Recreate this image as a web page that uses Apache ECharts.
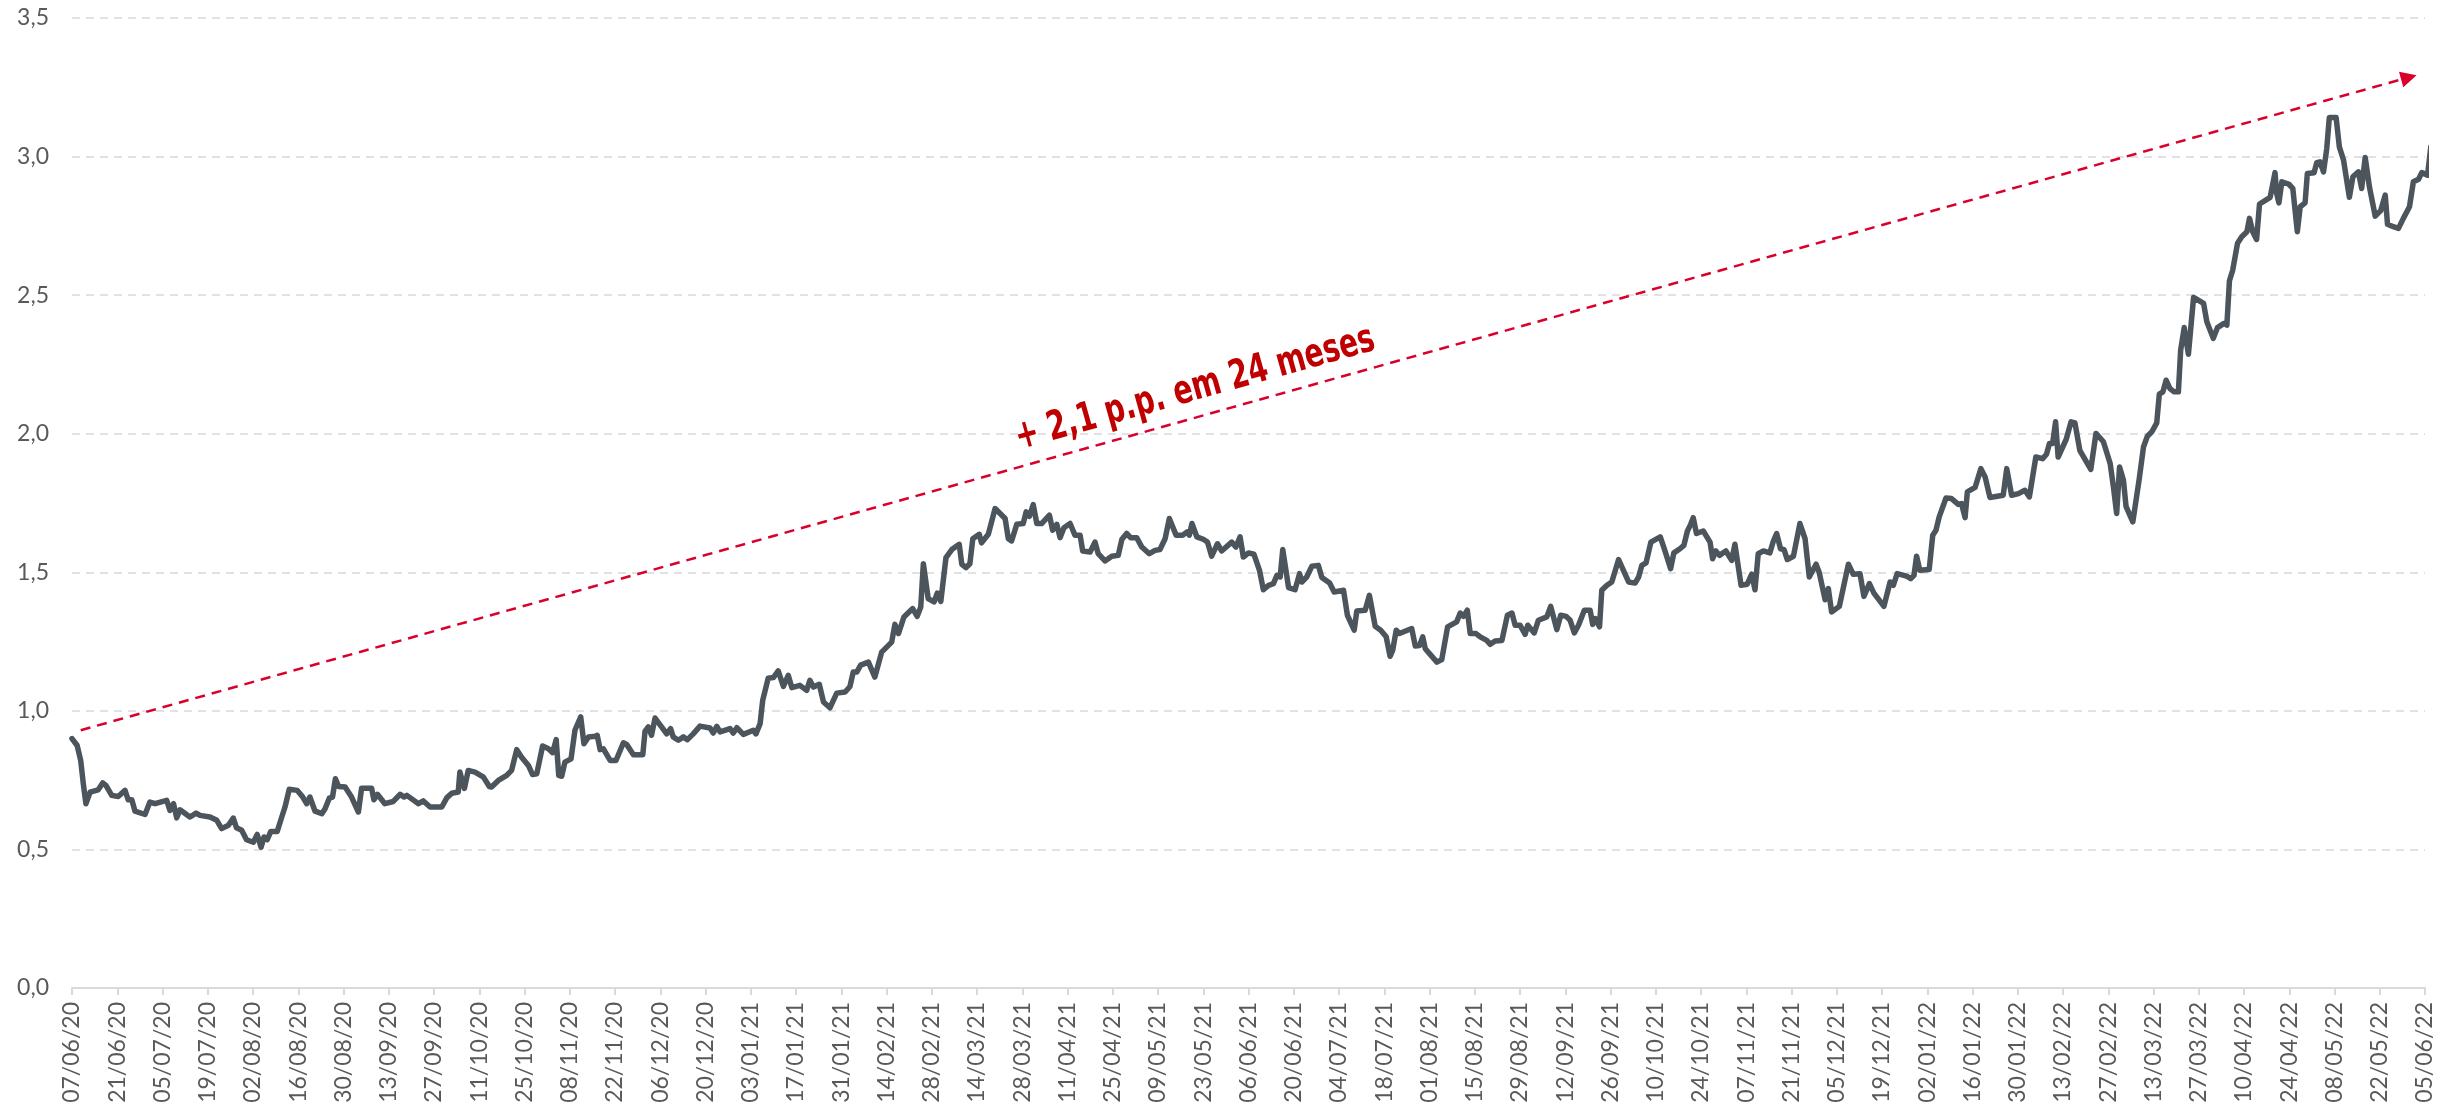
<!DOCTYPE html>
<html>
<head>
<meta charset="utf-8">
<title>Evolução 07/06/20 - 05/06/22</title>
<script src="https://cdn.jsdelivr.net/npm/echarts@6/dist/echarts.min.js"></script>
<style>
  html, body { margin: 0; padding: 0; background: #fff; }
  #chart { width: 2457px; height: 1111px; }
</style>
</head>
<body>
<div id="chart"></div>
<script>
// série diária, posição em dias a partir de 07/06/20
const startDate = "07/06/20";
const dayOffsets = [
  0, 1.6, 2.7, 3.5, 4.3, 5.6, 8.1, 9.5, 10.5, 12.3, 14.3, 16.4, 17.4, 18.5, 19.5, 22.6, 24.1, 25.7, 29.3, 30.3,
  31.4, 32.4, 33.4, 36.5, 38.4, 39.6, 42.7, 44.8, 46.3, 48.4, 49.9, 50.9, 52.5, 54.0, 56.1, 57.3, 58.5, 59.4, 60.4, 61.5,
  63.5, 64.9, 65.9, 67.2, 69.7, 71.4, 72.6, 73.6, 75.2, 77.3, 78.3, 79.6, 80.6, 81.5, 82.5, 84.5, 86.5, 88.6, 89.6, 92.7,
  93.4, 94.5, 96.8, 99.4, 101.5, 102.7, 103.6, 107.2, 108.7, 110.8, 114.4, 116.0, 117.5, 119.5, 120.0, 121.4, 122.6, 124.7, 127.3, 129.1,
  129.8, 131.9, 134.5, 136.0, 137.6, 139.1, 141.2, 142.5, 143.8, 145.6, 147.4, 148.7, 149.8, 150.6, 151.5, 152.5, 154.4, 155.6, 157.4, 158.4,
  159.8, 161.8, 162.5, 163.4, 164.4, 166.5, 168.3, 170.6, 171.6, 173.7, 176.6, 177.3, 178.3, 179.3, 180.4, 182.4, 184.0, 185.2, 186.0, 187.6,
  189.2, 190.4, 192.2, 194.3, 197.4, 198.4, 199.5, 200.5, 203.6, 204.6, 205.7, 207.7, 210.8, 211.6, 212.9, 213.7, 215.4, 217.0, 218.5, 220.1,
  221.6, 222.7, 225.2, 227.3, 228.3, 229.4, 231.2, 232.5, 234.5, 236.6, 239.2, 240.7, 241.7, 242.8, 244.0, 246.4, 248.4, 250.5, 253.6, 254.6,
  255.7, 257.4, 260.1, 261.5, 262.6, 263.4, 264.9, 266.7, 267.7, 268.8, 270.4, 272.2, 274.5, 275.3, 276.6, 277.8, 278.7, 280.7, 281.4, 283.5,
  285.6, 288.7, 289.7, 290.7, 292.3, 294.3, 295.2, 296.2, 297.4, 298.5, 300.0, 302.4, 303.4, 304.7, 305.7, 306.9, 308.8, 310.3, 311.9, 312.7,
  315.0, 316.5, 317.5, 319.6, 321.7, 323.7, 324.8, 326.3, 327.5, 329.4, 331.0, 333.3, 335.1, 336.6, 338.2, 339.5, 341.6, 343.6, 345.1, 345.7,
  346.5, 348.0, 350.0, 351.3, 352.6, 354.4, 355.7, 358.8, 360.1, 361.4, 362.4, 364.0, 365.7, 367.4, 368.6, 370.2, 371.7, 372.8, 373.8, 374.6,
  376.4, 378.4, 379.8, 380.5, 382.0, 383.6, 385.6, 386.7, 389.1, 390.5, 393.4, 394.6, 396.7, 397.5, 400.1, 401.4, 403.2, 404.9, 406.6, 407.8,
  408.6, 409.7, 410.7, 414.5, 415.6, 416.9, 417.9, 418.7, 420.2, 422.3, 423.8, 425.6, 428.4, 429.5, 430.5, 431.7, 432.6, 434.4, 435.7, 437.7,
  438.8, 440.3, 442.4, 444.1, 445.5, 446.5, 448.0, 449.6, 450.4, 452.4, 453.7, 456.3, 457.5, 459.4, 460.6, 462.3, 463.5, 464.8, 466.1, 467.9,
  469.7, 470.5, 471.3, 472.6, 473.3, 474.9, 476.4, 478.5, 480.0, 481.6, 483.6, 484.7, 485.7, 487.0, 488.5, 491.4, 492.8, 494.6, 495.6, 497.5,
  498.7, 499.8, 500.8, 501.6, 502.6, 504.7, 506.8, 507.6, 508.6, 509.7, 511.7, 513.5, 514.5, 516.4, 518.3, 519.7, 520.7, 521.7, 523.3, 525.3,
  526.4, 527.4, 528.6, 529.7, 530.7, 532.6, 534.6, 536.2, 537.5, 539.6, 540.6, 542.4, 543.4, 544.4, 546.8, 549.6, 551.1, 553.2, 554.4, 556.1,
  557.5, 560.6, 562.5, 563.5, 564.7, 567.6, 568.9, 569.9, 570.7, 571.7, 574.6, 575.7, 576.7, 577.7, 579.8, 581.5, 583.6, 584.6, 585.7, 586.4,
  588.8, 590.6, 591.9, 593.4, 597.5, 598.6, 600.1, 602.2, 604.2, 605.6, 607.6, 609.7, 610.9, 611.8, 612.8, 613.7, 614.5, 617.0, 618.5, 619.7,
  621.2, 624.6, 626.2, 628.5, 630.6, 631.6, 632.6, 633.5, 634.7, 635.5, 637.6, 639.6, 640.9, 642.1, 643.5, 645.0, 645.8, 646.9, 647.9, 649.1,
  650.4, 651.7, 652.4, 653.5, 654.8, 656.4, 659.5, 660.5, 662.5, 663.8, 665.8, 666.7, 667.5, 668.5, 670.0, 671.3, 672.9, 673.7, 674.7, 675.9,
  676.8, 680.1, 681.6, 682.1, 682.8, 683.7, 685.8, 687.1, 688.5, 689.4, 690.9, 691.6, 693.7, 694.5, 695.5, 696.6, 697.6, 698.4, 700.5, 701.5,
  702.8, 704.6, 705.7, 707.4, 708.4, 709.5, 710.8, 712.6, 714.3, 715.7, 716.4, 718.2, 719.8, 721.3, 723.2, 724.4, 726.0, 727.0, 728.8, 729.8
];
const values = [
  0.900, 0.875, 0.820, 0.737, 0.665, 0.707, 0.715, 0.740, 0.731, 0.695, 0.691, 0.713, 0.679, 0.679, 0.638, 0.626, 0.671, 0.665, 0.677, 0.641,
  0.665, 0.614, 0.643, 0.617, 0.631, 0.623, 0.617, 0.605, 0.575, 0.587, 0.613, 0.578, 0.569, 0.535, 0.526, 0.554, 0.508, 0.545, 0.535, 0.565,
  0.565, 0.617, 0.653, 0.717, 0.713, 0.689, 0.665, 0.689, 0.638, 0.629, 0.647, 0.685, 0.689, 0.755, 0.727, 0.725, 0.689, 0.635, 0.721, 0.721,
  0.679, 0.699, 0.665, 0.673, 0.699, 0.689, 0.695, 0.665, 0.675, 0.653, 0.653, 0.687, 0.703, 0.707, 0.779, 0.720, 0.785, 0.779, 0.761, 0.727,
  0.725, 0.749, 0.767, 0.785, 0.860, 0.833, 0.803, 0.770, 0.773, 0.873, 0.863, 0.849, 0.896, 0.767, 0.764, 0.815, 0.827, 0.930, 0.978, 0.881,
  0.906, 0.908, 0.912, 0.860, 0.863, 0.821, 0.821, 0.885, 0.879, 0.842, 0.842, 0.927, 0.942, 0.912, 0.974, 0.942, 0.917, 0.936, 0.906, 0.894,
  0.906, 0.896, 0.917, 0.945, 0.938, 0.920, 0.944, 0.924, 0.936, 0.920, 0.939, 0.915, 0.930, 0.917, 0.954, 1.038, 1.118, 1.120, 1.144, 1.088,
  1.128, 1.084, 1.092, 1.074, 1.110, 1.086, 1.096, 1.032, 1.011, 1.064, 1.068, 1.088, 1.140, 1.140, 1.165, 1.176, 1.122, 1.212, 1.248, 1.312,
  1.279, 1.339, 1.369, 1.341, 1.375, 1.531, 1.405, 1.393, 1.425, 1.395, 1.553, 1.582, 1.601, 1.529, 1.517, 1.531, 1.621, 1.637, 1.606, 1.637,
  1.730, 1.694, 1.621, 1.613, 1.673, 1.676, 1.718, 1.702, 1.744, 1.676, 1.676, 1.706, 1.652, 1.673, 1.625, 1.661, 1.676, 1.634, 1.634, 1.577,
  1.573, 1.609, 1.567, 1.541, 1.558, 1.561, 1.618, 1.640, 1.625, 1.625, 1.591, 1.567, 1.579, 1.582, 1.621, 1.694, 1.634, 1.634, 1.646, 1.634,
  1.676, 1.628, 1.619, 1.609, 1.558, 1.603, 1.577, 1.609, 1.591, 1.628, 1.555, 1.570, 1.565, 1.507, 1.437, 1.453, 1.459, 1.489, 1.483, 1.582,
  1.445, 1.437, 1.495, 1.465, 1.483, 1.522, 1.525, 1.481, 1.461, 1.429, 1.435, 1.345, 1.291, 1.360, 1.363, 1.417, 1.305, 1.291, 1.267, 1.197,
  1.218, 1.291, 1.279, 1.297, 1.234, 1.236, 1.267, 1.224, 1.204, 1.176, 1.185, 1.303, 1.321, 1.353, 1.341, 1.363, 1.279, 1.279, 1.267, 1.254,
  1.240, 1.252, 1.254, 1.345, 1.353, 1.309, 1.309, 1.276, 1.309, 1.281, 1.327, 1.339, 1.377, 1.293, 1.345, 1.341, 1.327, 1.281, 1.309, 1.363,
  1.363, 1.312, 1.333, 1.303, 1.435, 1.453, 1.465, 1.546, 1.507, 1.465, 1.461, 1.483, 1.525, 1.534, 1.609, 1.628, 1.579, 1.513, 1.570, 1.585,
  1.597, 1.649, 1.673, 1.697, 1.640, 1.649, 1.609, 1.549, 1.577, 1.561, 1.577, 1.543, 1.601, 1.453, 1.457, 1.493, 1.437, 1.567, 1.577, 1.570,
  1.613, 1.640, 1.585, 1.582, 1.546, 1.558, 1.676, 1.621, 1.483, 1.529, 1.498, 1.401, 1.441, 1.357, 1.377, 1.529, 1.493, 1.495, 1.413, 1.459,
  1.425, 1.377, 1.465, 1.453, 1.495, 1.486, 1.477, 1.489, 1.558, 1.507, 1.510, 1.634, 1.652, 1.700, 1.768, 1.766, 1.745, 1.748, 1.697, 1.790,
  1.806, 1.874, 1.844, 1.770, 1.778, 1.874, 1.778, 1.784, 1.796, 1.772, 1.916, 1.910, 1.926, 1.965, 1.965, 2.043, 1.916, 1.980, 2.043, 2.039,
  1.940, 1.871, 2.001, 1.971, 1.892, 1.808, 1.712, 1.880, 1.832, 1.738, 1.682, 1.838, 1.952, 1.991, 2.007, 2.039, 2.143, 2.151, 2.193, 2.163,
  2.151, 2.151, 2.301, 2.383, 2.287, 2.492, 2.470, 2.404, 2.344, 2.383, 2.398, 2.392, 2.552, 2.590, 2.687, 2.711, 2.729, 2.777, 2.729, 2.701,
  2.829, 2.853, 2.942, 2.867, 2.833, 2.909, 2.901, 2.885, 2.729, 2.819, 2.833, 2.939, 2.942, 2.978, 2.981, 2.945, 3.029, 3.141, 3.141, 3.035,
  2.987, 2.853, 2.927, 2.945, 2.885, 2.997, 2.891, 2.785, 2.805, 2.861, 2.756, 2.747, 2.741, 2.777, 2.819, 2.909, 2.918, 2.942, 2.933, 3.035
];

// rótulos do eixo x, um a cada 14 dias
const tickLabels = [
  "07/06/20", "21/06/20", "05/07/20", "19/07/20", "02/08/20", "16/08/20", "30/08/20", "13/09/20", "27/09/20",
  "11/10/20", "25/10/20", "08/11/20", "22/11/20", "06/12/20", "20/12/20", "03/01/21", "17/01/21", "31/01/21",
  "14/02/21", "28/02/21", "14/03/21", "28/03/21", "11/04/21", "25/04/21", "09/05/21", "23/05/21", "06/06/21",
  "20/06/21", "04/07/21", "18/07/21", "01/08/21", "15/08/21", "29/08/21", "12/09/21", "26/09/21", "10/10/21",
  "24/10/21", "07/11/21", "21/11/21", "05/12/21", "19/12/21", "02/01/22", "16/01/22", "30/01/22", "13/02/22",
  "27/02/22", "13/03/22", "27/03/22", "10/04/22", "24/04/22", "08/05/22", "22/05/22", "05/06/22"
];
const tickStep = 14;

// seta de tendência (dia, valor) e texto
const arrowStart = [2.7, 0.93];
const arrowEnd = [723, 3.286];
const arrowText = "+ 2,1 p.p. em 24 meses";
const arrowTextAt = [347.5, 2.16]; // centro do texto (dia, valor)

const labelFont = "Lato, 'Open Sans', sans-serif";

let chart = echarts.init(document.getElementById("chart"));

let option = {
  backgroundColor: "#ffffff",
  animation: false,
  grid: {
    left: 72,
    right: 32,
    top: 18,
    bottom: 123,
    containLabel: false,
    outerBoundsMode: "none"
  },
  xAxis: {
    type: "value",
    min: 0,
    max: (tickLabels.length - 1) * tickStep,
    interval: tickStep,
    splitLine: { show: false },
    axisLine: { show: true, lineStyle: { color: "#D9D9D9", width: 2 } },
    axisTick: { show: true, length: 7, lineStyle: { color: "#D9D9D9", width: 2 } },
    axisLabel: {
      rotate: 90,
      margin: 14,
      color: "#595959",
      fontFamily: labelFont,
      fontSize: 23,
      showMinLabel: true,
      showMaxLabel: true,
      formatter: (v) => {
        let i = v / tickStep;
        return Number.isInteger(i) && tickLabels[i] ? tickLabels[i] : "";
      }
    }
  },
  yAxis: {
    type: "value",
    min: 0,
    max: 3.5,
    interval: 0.5,
    axisLine: { show: false },
    axisTick: { show: false },
    splitLine: {
      show: true,
      lineStyle: { color: "#D9D9D9", width: 1.5, type: [8, 6] }
    },
    axisLabel: {
      margin: 23,
      color: "#595959",
      fontFamily: labelFont,
      fontSize: 23,
      formatter: (v) => v.toFixed(1).replace(".", ",")
    }
  },
  series: [
    {
      type: "line",
      data: dayOffsets.map((d, i) => [d, values[i]]),
      showSymbol: false,
      clip: false,
      lineStyle: { color: "#4C545C", width: 5.5, join: "round", cap: "round" },
      markLine: {
        silent: true,
        symbol: ["none", "triangle"],
        symbolSize: 16,
        lineStyle: { color: "#D9002B", width: 2.5, type: [10, 7] },
        label: { show: false },
        data: [[{ coord: arrowStart }, { coord: arrowEnd }]]
      }
    }
  ]
};

chart.setOption(option);

// texto da seta: girado no mesmo ângulo da seta, fonte estreitada
let p1 = chart.convertToPixel({ gridIndex: 0 }, arrowStart);
let p2 = chart.convertToPixel({ gridIndex: 0 }, arrowEnd);
let textPos = chart.convertToPixel({ gridIndex: 0 }, arrowTextAt);
let angle = Math.atan2(p1[1] - p2[1], p2[0] - p1[0]);

chart.setOption({
  graphic: [
    {
      type: "text",
      x: textPos[0],
      y: textPos[1],
      rotation: angle,
      scaleX: 0.78,
      silent: true,
      style: {
        text: arrowText,
        fill: "#C00000",
        fontFamily: "'DejaVu Sans Condensed', 'DejaVu Sans', sans-serif",
        fontWeight: "bold",
        fontSize: 40,
        align: "center",
        verticalAlign: "middle"
      }
    }
  ]
});
</script>
</body>
</html>
